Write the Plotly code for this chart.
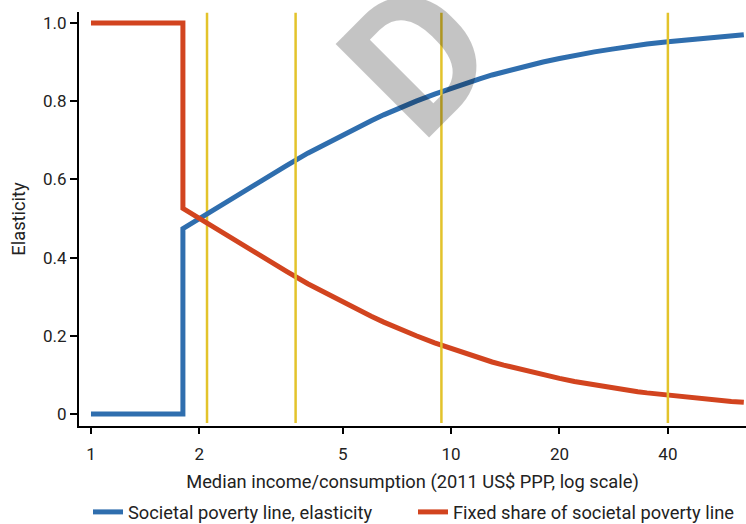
import plotly.graph_objects as go

# Median income/consumption (2011 US$ PPP per day)
median_income = [1.0, 1.2, 1.4, 1.6, 1.8, 1.8, 2.0, 2.2, 2.5, 2.7, 3.0, 3.5, 4.0, 4.5,
                 5.0, 5.5, 6.0, 6.5, 7.0, 7.5, 8.0, 9.0, 10.0, 11.0, 12.0, 13.0,
                 14.0, 15.0, 16.0, 18.0, 20.0, 22.0, 25.0, 28.0, 30.0, 33.0, 35.0,
                 40.0, 45.0, 50.0, 55.0, 60.0, 65.0]

# Elasticity of the societal poverty line with respect to the median
spl_elasticity = [0.0, 0.0, 0.0, 0.0, 0.0, 0.474, 0.500, 0.524, 0.556, 0.574, 0.600,
                  0.636, 0.667, 0.692, 0.714, 0.733, 0.750, 0.765, 0.778, 0.789,
                  0.800, 0.818, 0.833, 0.846, 0.857, 0.867, 0.875, 0.882, 0.889,
                  0.900, 0.909, 0.917, 0.926, 0.933, 0.938, 0.943, 0.946, 0.952,
                  0.957, 0.962, 0.965, 0.968, 0.970]

# Fixed (non-median-linked) share of the societal poverty line
fixed_share = [1.0, 1.0, 1.0, 1.0, 1.0, 0.526, 0.500, 0.476, 0.444, 0.426, 0.400,
               0.364, 0.333, 0.308, 0.286, 0.267, 0.250, 0.235, 0.222, 0.211,
               0.200, 0.182, 0.167, 0.154, 0.143, 0.133, 0.125, 0.118, 0.111,
               0.100, 0.091, 0.083, 0.074, 0.067, 0.062, 0.057, 0.054, 0.048,
               0.043, 0.038, 0.035, 0.032, 0.030]

# Reference medians marked with vertical lines
marker_medians = [2.1, 3.7, 9.4, 40.0]

x_tick_vals = [1, 2, 5, 10, 20, 40]
x_tick_text = ["1", "2", "5", "10", "20", "40"]
y_tick_vals = [0, 0.2, 0.4, 0.6, 0.8, 1.0]
y_tick_text = ["0", "0.2", "0.4", "0.6", "0.8", "1.0"]

BLUE = "#2F6EAE"
RED = "#D2441F"
YELLOW = "#E3C32B"
FONT = "Roboto, sans-serif"
TEXT = "#222222"

fig = go.Figure()
fig.add_trace(go.Scatter(
    x=median_income, y=spl_elasticity, mode="lines",
    name="Societal poverty line, elasticity",
    line=dict(color=BLUE, width=5),
))
fig.add_trace(go.Scatter(
    x=median_income, y=fixed_share, mode="lines",
    name="Fixed share of societal poverty line",
    line=dict(color=RED, width=5),
))

shapes = []
for i, m in enumerate(marker_medians):
    shapes.append(dict(
        type="line", xref="x", yref="paper", x0=m, x1=m, y0=0.007, y1=0.998,
        line=dict(color=YELLOW, width=2.5),
        layer="below" if i == 0 else "above",
    ))

fig.update_layout(
    width=746, height=524,
    margin=dict(l=79, r=0, t=12, b=98, autoexpand=False),
    paper_bgcolor="white", plot_bgcolor="white",
    font=dict(family=FONT, size=17, color=TEXT),
    shapes=shapes,
    showlegend=True,
    legend=dict(
        orientation="h", x=88 / 746, xref="container", y=12 / 524, yref="container",
        xanchor="left", yanchor="middle",
        font=dict(size=18.3, color=TEXT),
        entrywidth=280, entrywidthmode="pixels",
        bgcolor="rgba(0,0,0,0)",
    ),
    annotations=[dict(
        text="<b>D</b>", xref="paper", yref="paper",
        x=(418 - 79) / 667, y=(426 - 58) / 414,
        xanchor="center", yanchor="middle",
        showarrow=False, textangle=-45,
        font=dict(family=FONT, size=186, color="rgba(0,0,0,0.23)"),
    )],
)

fig.update_xaxes(
    type="log", range=[-0.0333, 1.819],
    tickvals=x_tick_vals, ticktext=x_tick_text,
    ticks="outside", ticklen=6, tickwidth=1.5, tickcolor="black",
    ticklabelstandoff=6,
    showline=True, linecolor="black", linewidth=2,
    showgrid=False, zeroline=False,
    title=dict(text="Median income/consumption (2011 US$ PPP, log scale)",
               font=dict(size=18.3), standoff=14),
)
fig.update_yaxes(
    range=[-0.0307, 1.028],
    tickvals=y_tick_vals, ticktext=y_tick_text,
    ticks="outside", ticklen=7, tickwidth=1.5, tickcolor="black",
    showline=True, linecolor="black", linewidth=2,
    showgrid=False, zeroline=False,
    title=dict(text="Elasticity", font=dict(size=18.3), standoff=13),
)

fig.write_html("out.html")
